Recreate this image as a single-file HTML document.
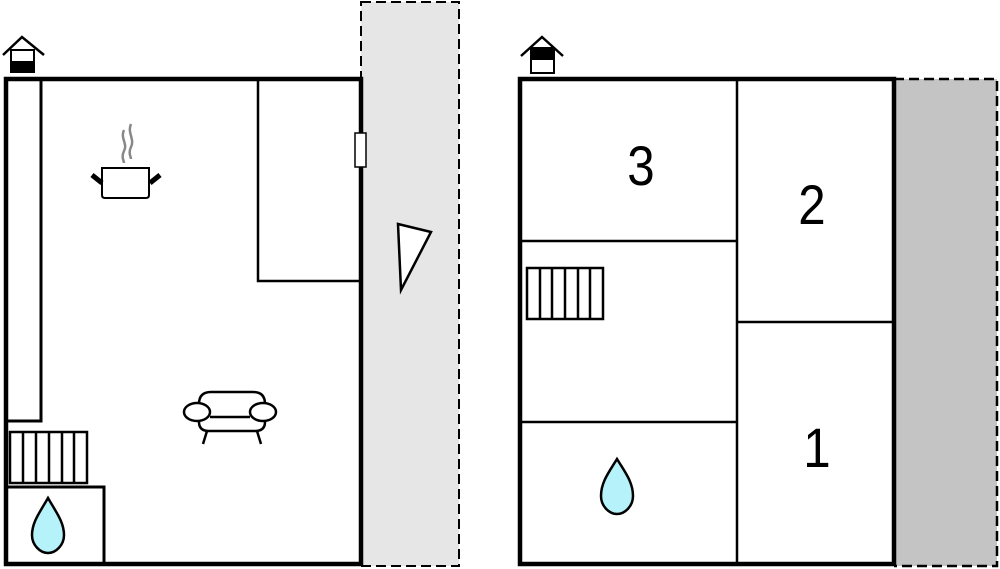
<!DOCTYPE html>
<html><head><style>html,body{margin:0;padding:0;background:#fff}svg{display:block}</style></head>
<body>
<svg width="1000" height="569" viewBox="0 0 1000 569" xmlns="http://www.w3.org/2000/svg">
<rect x="361" y="2" width="98" height="564" fill="#e6e6e6" stroke="#000" stroke-width="2" stroke-dasharray="10,5"/>
<rect x="894" y="79" width="103" height="487" fill="#c4c4c4"/>
<path d="M894 79 H997 V566 H894" fill="none" stroke="#000" stroke-width="2.5" stroke-dasharray="10,5"/>

<g fill="none" stroke="#000">
<rect x="6" y="79" width="355" height="485" stroke-width="4.5"/>
<path d="M41 79 V421 H6" stroke-width="3"/>
<path d="M258 79 V281 H361" stroke-width="2.5"/>
<path d="M6 487 H104 V566" stroke-width="3"/>
<rect x="10" y="432" width="77" height="51" stroke-width="2.5"/>
<path d="M23 432V483 M36 432V483 M49 432V483 M62 432V483 M74 432V483" stroke-width="2.5"/>
</g>
<rect x="355" y="133" width="11" height="34" fill="#fff" stroke="#000" stroke-width="1.5"/>
<polygon points="398,224 431,232 401,290" fill="#fff" stroke="#000" stroke-width="2.5"/>
<path d="M48 498 C40 512 32 522 32 535 C32 545 40 553 48 553 C56 553 64 545 64 535 C64 522 56 512 48 498Z" fill="#b5f2fa" stroke="#000" stroke-width="2.5"/>
<path d="M617 459 C609 472 601 482 601 496 C601 506 609 514 617 514 C625 514 633 506 633 496 C633 482 625 472 617 459Z" fill="#b5f2fa" stroke="#000" stroke-width="2.5"/>
<g fill="none">
<path d="M124 130 C120 138 128 144 124 151 C121 157 124 161 124 163 M131 124 C127 133 135 139 131 147 C128 153 131 157 131 159" stroke="#888" stroke-width="2.5"/>
<path d="M102 168 H149 V195 Q149 198 146 198 H105 Q102 198 102 195 Z" fill="#fff" stroke="#000" stroke-width="2"/>
<path d="M92 175 L102 183 M160 175 L150 183" stroke="#000" stroke-width="5"/>
</g>
<g fill="#fff" stroke="#000" stroke-width="2.5">
<path d="M199 404 Q199 392 211 392 H253 Q265 392 265 404 V422 Q265 431 255 431 H209 Q199 431 199 422 Z"/>
<path d="M207 431 L203 444 M257 431 L261 444" fill="none"/>
<ellipse cx="197" cy="412" rx="13" ry="9"/>
<ellipse cx="263" cy="412" rx="13" ry="9"/>
<path d="M210 417 H250" fill="none"/>
</g>
<g stroke="#000" fill="none" stroke-width="2.5">
<path d="M3 55 L22 37 L44 55"/>
<rect x="11" y="50" width="23" height="22" fill="#fff" stroke-width="2"/>
</g>
<rect x="10" y="61" width="25" height="12" fill="#000"/>
<g stroke="#000" fill="none" stroke-width="2.5">
<path d="M521 56 L542 37 L563 56"/>
<rect x="531" y="48" width="23" height="25" fill="#fff" stroke-width="2"/>
</g>
<rect x="531" y="48" width="23" height="12" fill="#000"/>

<g fill="none" stroke="#000">
<rect x="520" y="79" width="374" height="485" stroke-width="4.5"/>
<path d="M737 79 V566" stroke-width="2.5"/>
<path d="M520 241 H737 M520 422 H737 M737 322 H894" stroke-width="2.5"/>
<rect x="527" y="268" width="76" height="51" stroke-width="2.5"/>
<path d="M540 268V319 M552 268V319 M565 268V319 M578 268V319 M590 268V319" stroke-width="2.5"/>
</g>
<g font-family="Liberation Sans, sans-serif" font-size="56" text-anchor="middle" fill="#000">
<text transform="translate(641,185) scale(0.88,1)">3</text>
<text transform="translate(812,224) scale(0.88,1)">2</text>
<text transform="translate(817,467) scale(0.88,1)">1</text>
</g>
</svg>
</body></html>
